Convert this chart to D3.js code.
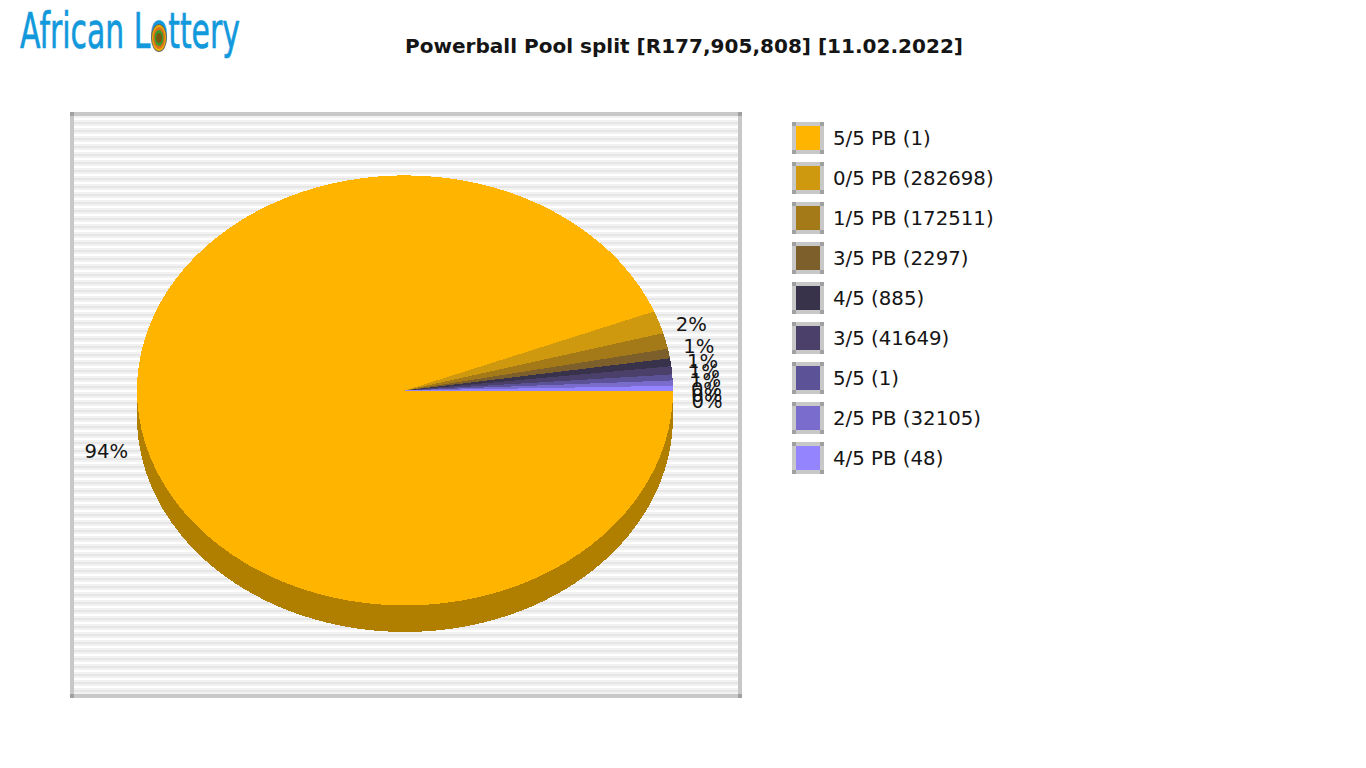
<!DOCTYPE html>
<html><head><meta charset="utf-8">
<style>html,body{margin:0;padding:0;background:#fff}svg{display:block}text{font-family:"DejaVu Sans";fill:#151515}</style>
<script src="https://cdn.jsdelivr.net/npm/d3@7/dist/d3.min.js"></script></head><body>
<svg id="c" width="1366" height="768"></svg>
<script>
const chartTitle = "Powerball Pool split [R177,905,808] [11.02.2022]";
const logoText = "African Lottery";
const categories = ["5/5 PB (1)","0/5 PB (282698)","1/5 PB (172511)","3/5 PB (2297)","4/5 (885)","3/5 (41649)","5/5 (1)","2/5 PB (32105)","4/5 PB (48)"];
const shares = [94.0,1.7,1.2,0.7,0.6,0.6,0.45,0.4,0.35];
const colors = ["#ffb400","#cf990f","#a47a18","#7c5f2a","#38334a","#4a4069","#5c5298","#7a6ccc","#9485ff"];
const sideColor = "#b07f00";
const svg = d3.select("#c");
const defs = svg.append("defs");
const pat = defs.append("pattern").attr("id","st").attr("patternUnits","userSpaceOnUse").attr("width",8).attr("height",8).attr("y",114);
pat.append("rect").attr("width",8).attr("height",8).attr("fill","#fff");
pat.append("rect").attr("y",0).attr("width",8).attr("height",2).attr("fill","#e6e6e6");
pat.append("rect").attr("y",2).attr("width",8).attr("height",2).attr("fill","#f2f2f2");
pat.append("rect").attr("y",6).attr("width",8).attr("height",2).attr("fill","#f2f2f2");
function frame(g,x0,y0,x1,y1,b){
  g.append("rect").attr("x",x0).attr("y",y0).attr("width",x1-x0).attr("height",y1-y0).attr("fill","#c8c8c8").attr("shape-rendering","crispEdges");
  [[x0,y0],[x1-b,y0],[x0,y1-b],[x1-b,y1-b]].forEach(p=>g.append("rect").attr("x",p[0]).attr("y",p[1]).attr("width",b).attr("height",b).attr("fill","#a0a0a0").attr("shape-rendering","crispEdges"));
}
frame(svg,70,112,742,698,4);
svg.append("rect").attr("x",74).attr("y",116).attr("width",664).attr("height",578).attr("fill","url(#st)").attr("shape-rendering","crispEdges");
const lg = svg.append("g");
lg.append("text").attr("x",20).attr("y",48).attr("font-size",50).attr("textLength",220).attr("lengthAdjust","spacingAndGlyphs").style("fill","#1299dc").style("stroke","#1299dc").style("stroke-width",0.7).text(logoText);
const badge = [["#666",8,14],["#e8b000",7,13],["#e0701a",6,11],["#3a9a2a",4.5,8],["#7a5a10",3,5]];
lg.selectAll("ellipse").data(badge).join("ellipse").attr("cx",159).attr("cy",38).attr("rx",d=>d[1]).attr("ry",d=>d[2]).attr("fill",d=>d[0]);
svg.append("text").attr("x",684).attr("y",53).attr("text-anchor","middle").attr("font-weight","bold").attr("font-size",20).attr("textLength",558).attr("lengthAdjust","spacingAndGlyphs").text(chartTitle);
const cx=405,cy=390.5,rx=268,ry=215,depth=26.5;
const pie = d3.pie().sort(null).value(d=>d).startAngle(Math.PI/2).endAngle(Math.PI/2+2*Math.PI);
const arcs = pie(shares);
const arc = d3.arc().innerRadius(0).outerRadius(1);
svg.append("path").attr("d",d3.arc()({innerRadius:0,outerRadius:1,startAngle:0,endAngle:2*Math.PI})).attr("transform",`translate(${cx},${cy+depth}) scale(${rx},${ry})`).attr("fill",sideColor).attr("shape-rendering","crispEdges");
svg.append("rect").attr("x",cx-rx).attr("y",cy).attr("width",rx*2).attr("height",depth).attr("fill",sideColor).attr("shape-rendering","crispEdges");
svg.selectAll(".s").data(arcs).join("path").attr("class","s").attr("d",arc).attr("transform",`translate(${cx},${cy}) scale(${rx},${ry})`).attr("fill",(d,i)=>colors[i]).attr("shape-rendering","crispEdges");
const lx=d3.scaleLinear().domain([-1,1]).range([404-303,404+303]);
const ly=d3.scaleLinear().domain([-1,1]).range([404-252,404+252]);
svg.selectAll(".l").data(arcs).join("text").attr("class","l")
 .attr("x",d=>lx(Math.sin((d.startAngle+d.endAngle)/2)))
 .attr("y",d=>ly(-Math.cos((d.startAngle+d.endAngle)/2))+7)
 .attr("text-anchor","middle").attr("font-size",19.6)
 .text(d=>Math.round(d.value)+"%");
const leg=svg.selectAll(".k").data(categories).join("g").attr("class","k").attr("transform",(d,i)=>`translate(792,${122+i*40})`);
leg.each(function(d,i){const g=d3.select(this);frame(g,0,0,32,32,4);g.append("rect").attr("x",4).attr("y",4).attr("width",24).attr("height",24).attr("fill",colors[i]).attr("shape-rendering","crispEdges");});
leg.append("text").attr("x",41).attr("y",23).attr("font-size",19.75).text(d=>d);
</script></body></html>
